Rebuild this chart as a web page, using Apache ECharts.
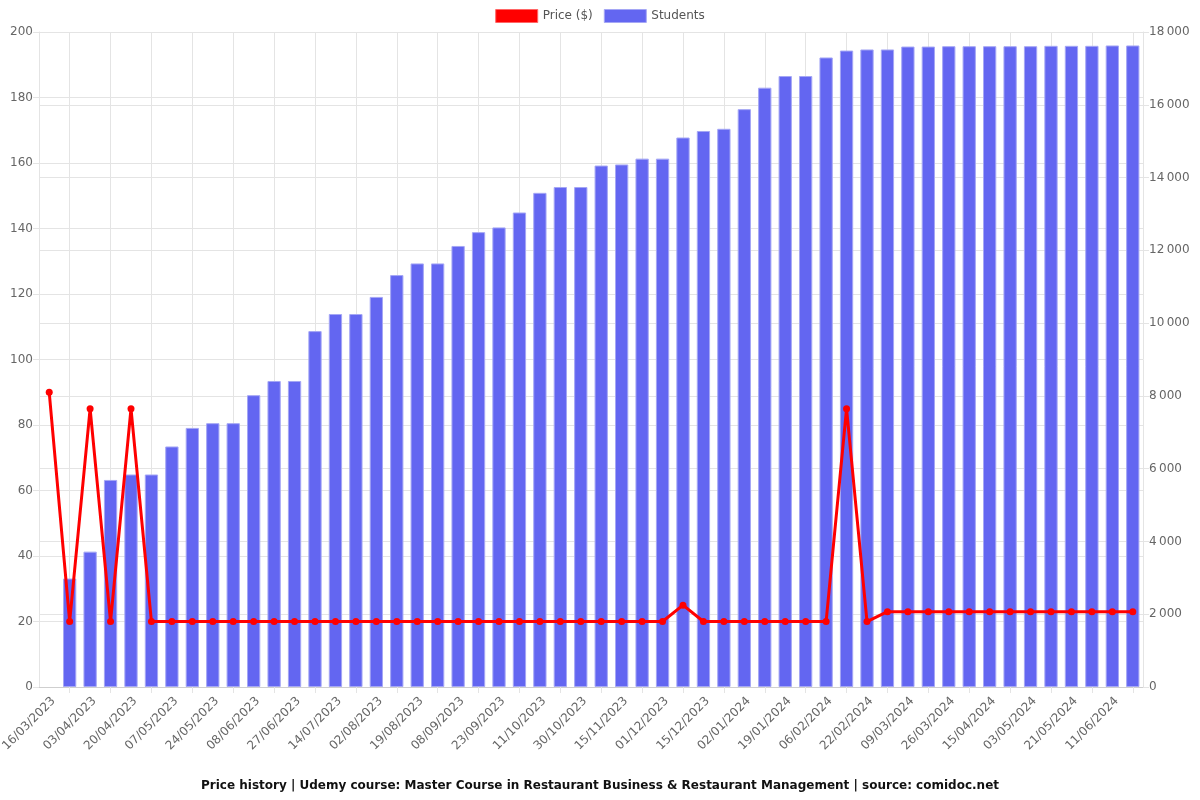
<!DOCTYPE html>
<html>
<head>
<meta charset="utf-8">
<script src="https://cdn.jsdelivr.net/npm/echarts@6/dist/echarts.min.js"></script>
<style>
html,body{margin:0;padding:0;background:#fff;}
#chart{width:1200px;height:800px;}
</style>
</head>
<body>
<div id="chart"></div>
<script>
const dates = [
  "16/03/2023","25/03/2023","03/04/2023","12/04/2023","20/04/2023","28/04/2023",
  "07/05/2023","16/05/2023","24/05/2023","31/05/2023","08/06/2023","18/06/2023",
  "27/06/2023","05/07/2023","14/07/2023","24/07/2023","02/08/2023","10/08/2023",
  "19/08/2023","29/08/2023","08/09/2023","15/09/2023","23/09/2023","02/10/2023",
  "11/10/2023","20/10/2023","30/10/2023","07/11/2023","15/11/2023","23/11/2023",
  "01/12/2023","08/12/2023","15/12/2023","24/12/2023","02/01/2024","10/01/2024",
  "19/01/2024","28/01/2024","06/02/2024","14/02/2024","22/02/2024","01/03/2024",
  "09/03/2024","17/03/2024","26/03/2024","05/04/2024","15/04/2024","24/04/2024",
  "03/05/2024","12/05/2024","21/05/2024","01/06/2024","11/06/2024","20/06/2024"
];
const price = [
  89.99,19.99,84.99,19.99,84.99,19.99,
  19.99,19.99,19.99,19.99,19.99,19.99,
  19.99,19.99,19.99,19.99,19.99,19.99,
  19.99,19.99,19.99,19.99,19.99,19.99,
  19.99,19.99,19.99,19.99,19.99,19.99,
  19.99,24.99,19.99,19.99,19.99,19.99,
  19.99,19.99,19.99,84.99,19.99,22.99,
  22.99,22.99,22.99,22.99,22.99,22.99,
  22.99,22.99,22.99,22.99,22.99,22.99
];
const students = [
  null,2980,3720,5690,5840,5840,6610,7120,7250,7250,8020,8410,8410,9780,
  10250,10250,10720,11320,11640,11640,12120,12500,12630,13040,13580,13740,13740,
  14330,14360,14520,14520,15100,15280,15340,15880,16470,16790,16790,17300,17490,
  17520,17520,17600,17600,17610,17610,17610,17610,17610,17620,17620,17620,17630,17630
];
const titleText = "Price history | Udemy course: Master Course in Restaurant Business & Restaurant Management | source: comidoc.net";

// helper half-step axis for grid lines between labelled categories
const halfSteps = [];
for (let i = 0; i <= dates.length * 2; i++) halfSteps.push(String(i));

const gridColor = '#e4e4e4';
const font = 'DejaVu Sans';
function fmtThousands(v){
  return String(v).replace(/\B(?=(\d{3})+(?!\d))/g, '\u202f');
}

const chart = echarts.init(document.getElementById('chart'), null, {renderer:'canvas'});
chart.setOption({
  animation: false,
  textStyle: {fontFamily: font},
  title: {
    text: titleText,
    left: 'center',
    top: 775,
    textStyle: {fontSize: 12, fontWeight: 'bold', color: '#111', fontFamily: font}
  },
  legend: {
    top: 4,
    left: 'center',
    itemWidth: 42,
    itemHeight: 13,
    itemGap: 11,
    icon: 'rect',
    textStyle: {fontSize: 12, color: '#555', fontFamily: font},
    data: [
      {name: 'Price ($)', itemStyle: {color: '#ff0000', borderColor: '#ff6666', borderWidth: 1}},
      {name: 'Students', itemStyle: {color: '#6366f1', borderColor: '#a5a7f5', borderWidth: 1}}
    ]
  },
  grid: {left: 39, right: 57, top: 32, bottom: 113, containLabel: false, outerBoundsMode: 'none'},
  xAxis: [
    {
      type: 'category',
      data: dates,
      boundaryGap: true,
      axisLine: {show: true, lineStyle: {color: '#cfcfcf'}},
      axisTick: {show: false},
      splitLine: {show: false},
      axisLabel: {
        interval: 1,
        rotate: 45,
        color: '#666',
        fontSize: 12,
        margin: 8,
        verticalAlign: 'top',
        fontFamily: font
      }
    },
    {
      type: 'category',
      data: halfSteps,
      boundaryGap: false,
      position: 'bottom',
      axisLine: {show: false},
      axisLabel: {show: false},
      axisTick: {show: true, length: 6, interval: (i) => i % 4 === 3, lineStyle: {color: gridColor}},
      splitLine: {show: true, interval: (i) => i % 4 === 3, lineStyle: {color: gridColor, width: 1}}
    }
  ],
  yAxis: [
    {
      type: 'value',
      min: 0, max: 200, interval: 20,
      position: 'left',
      axisLine: {show: true, lineStyle: {color: gridColor}},
      axisTick: {show: true, length: 6, lineStyle: {color: gridColor}},
      axisLabel: {color: '#666', fontSize: 12, margin: 6, fontFamily: font},
      splitLine: {show: true, lineStyle: {color: gridColor}}
    },
    {
      type: 'value',
      min: 0, max: 18000, interval: 2000,
      position: 'right',
      axisLine: {show: true, lineStyle: {color: gridColor}},
      axisTick: {show: true, length: 6, lineStyle: {color: gridColor}},
      axisLabel: {color: '#666', fontSize: 12, margin: 6, fontFamily: font, formatter: fmtThousands},
      splitLine: {show: true, lineStyle: {color: gridColor}}
    }
  ],
  series: [
    {
      name: 'Price ($)',
      type: 'line',
      xAxisIndex: 0,
      yAxisIndex: 0,
      data: price,
      z: 5,
      symbol: 'circle',
      symbolSize: 7,
      lineStyle: {color: '#ff0000', width: 3},
      itemStyle: {color: '#ff0000'}
    },
    {
      name: 'Students',
      type: 'bar',
      xAxisIndex: 0,
      yAxisIndex: 1,
      data: students,
      barWidth: '65%',
      z: 2,
      itemStyle: {color: '#6366f1', borderColor: '#a5a7f5', borderWidth: 1}
    }
  ]
});
</script>
</body>
</html>
